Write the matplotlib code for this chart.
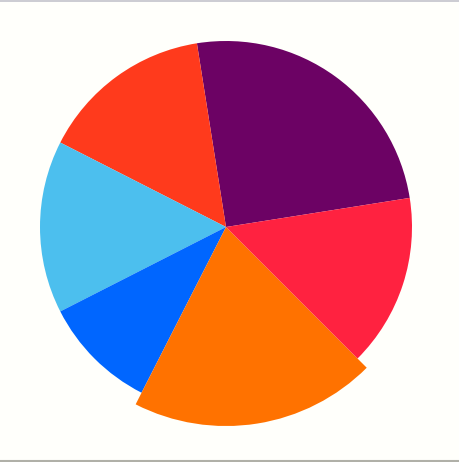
import matplotlib
matplotlib.use("Agg")
import matplotlib.pyplot as plt
from matplotlib.lines import Line2D

categories = ["A", "B", "C", "D", "E", "F"]
values = [25, 15, 15, 10, 20, 15]
colors = ["#6c0264", "#ff3a1c", "#4cbfee", "#0066ff", "#ff7200", "#ff2240"]
highlight = "E"

W, H = 460, 462
fig = plt.figure(figsize=(W / 100, H / 100), dpi=100)
fig.patch.set_facecolor("#fffffb")
ax = fig.add_axes([0, 0, 1, 1])
ax.set_xlim(0, W)
ax.set_ylim(0, H)
ax.set_aspect("equal")
ax.axis("off")

cx, cy, r = 226, H - 227, 186
wedges, _ = ax.pie(values, colors=colors, startangle=9, counterclock=True,
                   center=(cx, cy), radius=r, frame=True,
                   wedgeprops=dict(linewidth=0))
ax.set_xlim(0, W)
ax.set_ylim(0, H)
ax.axis("off")
for w, c in zip(wedges, categories):
    if c == highlight:
        w.set_radius(r * 1.07)

fig.add_artist(Line2D([0, 1], [1 - 0.5 / H, 1 - 0.5 / H], color="#c4c4cc", lw=1.2, transform=fig.transFigure))
fig.add_artist(Line2D([0, 1], [1.0 / H, 1.0 / H], color="#b0b0a8", lw=1.5, transform=fig.transFigure))

fig.savefig("out.png", dpi=100, facecolor=fig.get_facecolor())
